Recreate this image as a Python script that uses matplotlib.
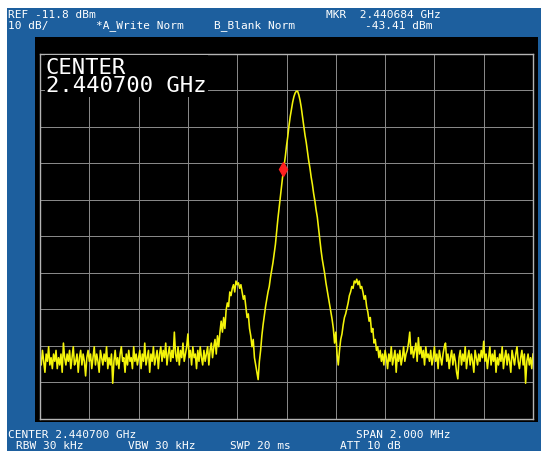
import matplotlib.pyplot as plt
from matplotlib.patches import Rectangle
import numpy as np

# analyzer settings shown on screen
ref_level = -11.8      # dBm, top of the grid
db_per_div = 10
n_div = 10
center_ghz = 2.440700
span_khz = 2000
marker_khz = -16       # marker offset from center
marker_dbm = -43.41

# trace, dBm, 401 sweep points over the span
left_noise = [
    -95, -97, -93, -96, -99, -94, -96, -92, -97, -95, -98, -94, -96, -93, -98, -95, -97, -94, -99, -91,
    -95, -97, -94, -96, -93, -98, -95, -92, -97, -96, -94, -99, -95, -93, -97, -94, -96, -100, -95, -93,
    -96, -94, -98, -95, -92, -97, -94, -96, -99, -93, -95, -97, -94, -96, -92, -98, -95, -97, -94, -102,
    -96, -93, -97, -95, -98, -94, -92, -96, -95, -99, -94, -97, -93, -96, -95, -98, -92, -96, -94, -97,
    -95, -93, -98, -94, -96, -91, -97, -95, -93, -99, -94, -96, -92, -97, -95, -93, -98, -94, -92, -96,
    -93, -95, -91, -97, -94, -92, -96, -93, -95, -88, -94, -96, -92, -97, -93, -95, -91, -96, -94, -92,
    -88.5, -95, -93, -97, -92, -95, -94, -98, -93, -96, -92, -95, -97, -93, -96, -94, -92, -97, -93, -91,
    -95, -92, -90, -94, -89, -92, -88,
]
left_lobe = [
    -85, -88, -84, -87, -82, -80, -81, -77, -78, -76, -75, -77, -74, -75, -74.5, -76, -75, -77, -79, -78,
    -81, -84, -83, -87, -89, -92, -90, -95, -97, -99,
]
main_lobe = [
    -101, -96, -93, -89, -86, -83.5, -81, -79, -77, -75.5, -73, -71, -69, -66.5, -64, -60.5, -57, -54,
    -51, -48, -45, -42.5, -40, -37, -34.5, -31.5, -29, -27, -25, -23.5, -22.5, -22, -22, -23, -24.5,
    -26.5, -29, -31.5, -34, -36, -38.5, -41, -43, -45.5, -47.5, -50, -52, -54.5, -56.5, -59.5, -62.5,
    -65.5, -68, -70, -72, -74.5, -76.5, -78.5, -80.5, -82.5, -84.5, -87, -91, -88, -94, -97, -93,
]
right_lobe = [
    -90, -88.5, -86, -84, -83, -81.5, -80, -78, -77, -75.5, -76, -74, -74.5, -73.5, -75, -74, -76,
    -75.5, -77, -79, -78, -81, -82.5, -85, -84, -88, -87, -91, -90, -93, -92, -95, -93,
]
right_noise = [
    -96, -94, -97, -93, -95, -98, -94, -96, -92, -97, -95, -93, -99, -94, -96, -93, -97, -95, -92, -96,
    -94, -93, -91, -88, -94, -92, -95, -93, -91, -96, -89.5, -94, -92, -95, -93, -97, -92, -95, -94, -96,
    -93, -97, -95, -92, -96, -94, -98, -93, -95, -97, -94, -92, -91, -96, -94, -98, -95, -93, -97, -94,
    -96, -99, -100.8, -95, -93, -97, -94, -96, -92, -98, -95, -93, -97, -94, -96, -99, -93, -95, -97, -94,
    -96, -93, -95, -90.5, -96, -94, -98, -95, -92, -97, -94, -96, -93, -99, -95, -97, -94, -96, -92, -98,
    -95, -93, -97, -94, -96, -99, -93, -95, -97, -94, -92, -96, -98, -95, -93, -97, -94, -102, -96, -94,
    -97, -95, -98, -94,
]

trace = np.array(left_noise + left_lobe + main_lobe + right_lobe + right_noise)
freq = np.linspace(-span_khz / 2, span_khz / 2, len(trace))

W, H = 550, 460
blue = '#1d5f9e'
mono = 'DejaVu Sans Mono'

fig = plt.figure(figsize=(W / 100, H / 100), dpi=100)
fig.patch.set_facecolor('white')

def px_rect(x0, y0, x1, y1, color):
    fig.add_artist(Rectangle((x0 / W, 1 - y1 / H), (x1 - x0) / W, (y1 - y0) / H,
                             transform=fig.transFigure, facecolor=color,
                             edgecolor='none', zorder=0))

px_rect(7, 9, 541, 452, blue)
px_rect(35, 38, 538, 423, 'black')

ax = fig.add_axes([40 / W, 1 - 420 / H, (533 - 40) / W, (420 - 55) / H])
ax.set_facecolor('black')
ax.set_xlim(-span_khz / 2, span_khz / 2)
ax.set_ylim(ref_level - n_div * db_per_div, ref_level)
ax.set_xticks(np.linspace(-span_khz / 2, span_khz / 2, n_div + 1))
ax.set_yticks(np.linspace(ref_level - n_div * db_per_div, ref_level, n_div + 1))
ax.grid(color='#8c8c8c', lw=0.7)
ax.set_axisbelow(True)
ax.tick_params(length=0, labelbottom=False, labelleft=False)
for s in ax.spines.values():
    s.set_color('#b4b4b4')
    s.set_linewidth(1.0)

ax.plot(freq, trace, color='#f4f40a', lw=1.15)
ax.plot(marker_khz, marker_dbm, 'd', color='#ff2020', ms=7, mec='#ff2020')

# big center annotation on a black patch
ax.text(0.012, 0.993, f'CENTER\n{center_ghz:.6f} GHz', transform=ax.transAxes,
        color='white', family=mono, fontsize=16, va='top', ha='left',
        linespacing=0.92, bbox=dict(facecolor='black', edgecolor='none', pad=1.0))

def hdr(x, y, s):
    fig.text(x / W, 1 - y / H, s, color='white', family=mono, fontsize=8,
             va='center', ha='left')

mkr_ghz = center_ghz + marker_khz / 1e6
hdr(8, 15, f'REF {ref_level} dBm')
hdr(326, 15, f'MKR  {mkr_ghz:.6f} GHz')
hdr(8, 26, f'{db_per_div} dB/')
hdr(96, 26, '*A_Write Norm')
hdr(214, 26, 'B_Blank Norm')
hdr(365, 26, f'{marker_dbm:.2f} dBm')

hdr(8, 435, f'CENTER {center_ghz:.6f} GHz')
hdr(356, 435, f'SPAN {span_khz / 1000:.3f} MHz')
hdr(16, 446, 'RBW 30 kHz')
hdr(128, 446, 'VBW 30 kHz')
hdr(230, 446, 'SWP 20 ms')
hdr(340, 446, 'ATT 10 dB')

fig.savefig('out.png', dpi=100, facecolor='white')
